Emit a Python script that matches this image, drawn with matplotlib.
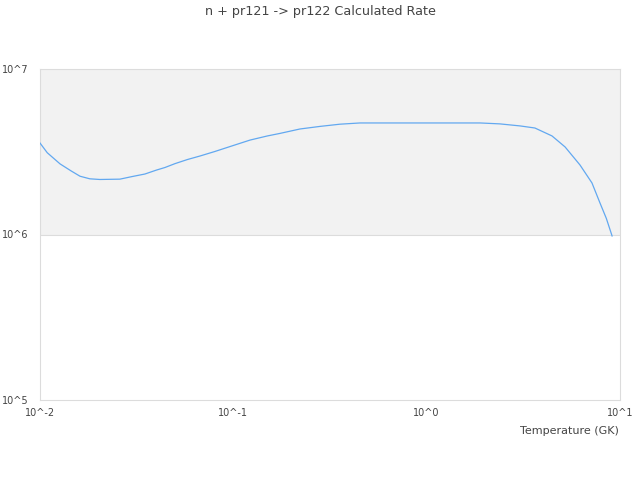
import matplotlib
matplotlib.use("Agg")
import matplotlib.pyplot as plt
from matplotlib.ticker import FixedLocator, NullLocator, FixedFormatter

temperature = [0.01, 0.0109, 0.0127, 0.0145, 0.0161, 0.0181, 0.0204, 0.0259, 0.0300,
               0.0349, 0.0400, 0.0443, 0.0499, 0.0580, 0.0672, 0.0800, 0.0962, 0.122,
               0.150, 0.174, 0.221, 0.281, 0.356, 0.452, 0.60, 0.80, 1.0, 1.5, 1.89,
               2.39, 3.04, 3.63, 4.45, 5.2, 6.21, 7.16, 7.88, 8.5, 9.1]
rate = [3.57e6, 3.12e6, 2.67e6, 2.42e6, 2.25e6, 2.17e6, 2.15e6, 2.16e6, 2.24e6,
        2.32e6, 2.45e6, 2.54e6, 2.68e6, 2.84e6, 2.98e6, 3.17e6, 3.40e6, 3.72e6,
        3.94e6, 4.08e6, 4.34e6, 4.50e6, 4.64e6, 4.72e6, 4.72e6, 4.72e6, 4.72e6,
        4.72e6, 4.72e6, 4.66e6, 4.53e6, 4.40e6, 3.94e6, 3.38e6, 2.63e6, 2.05e6,
        1.55e6, 1.25e6, 0.98e6]

x_ticks = [0.01, 0.1, 1, 10]
x_labels = ["10^-2", "10^-1", "10^0", "10^1"]
y_ticks = [1e5, 1e6, 1e7]
y_labels = ["10^5", "10^6", "10^7"]

fig = plt.figure(figsize=(6.4, 4.8), dpi=100)
ax = fig.add_axes([40/640, 1 - 400/480, 580/640, 331/480])
ax.set_xscale("log")
ax.set_yscale("log")
ax.set_xlim(0.01, 10)
ax.set_ylim(1e5, 1e7)

ax.axhspan(1e6, 1e7, color="#f2f2f2", zorder=0, lw=0)
ax.axhline(1e6, color="#dcdcdc", lw=0.8, zorder=1)
ax.plot(temperature, rate, color="#62a8f0", lw=0.9, zorder=3)

for s in ax.spines.values():
    s.set_color("#dcdcdc")
    s.set_linewidth(0.8)

ax.xaxis.set_major_locator(FixedLocator(x_ticks))
ax.xaxis.set_major_formatter(FixedFormatter(x_labels))
ax.xaxis.set_minor_locator(NullLocator())
ax.yaxis.set_major_locator(FixedLocator(y_ticks))
ax.yaxis.set_major_formatter(FixedFormatter(y_labels))
ax.yaxis.set_minor_locator(NullLocator())
ax.tick_params(length=0, labelsize=7, colors="#444444")
ax.tick_params(axis="x", pad=6)
ax.tick_params(axis="y", pad=8)

fig.text(320/640, 1 - 12/480, "n + pr121 -> pr122 Calculated Rate", ha="center", va="center",
         fontsize=9.2, color="#444444")
fig.text(619/640, 1 - 431/480, "Temperature (GK)", ha="right", va="center",
         fontsize=8, color="#444444")

fig.savefig("out.png", dpi=100)
